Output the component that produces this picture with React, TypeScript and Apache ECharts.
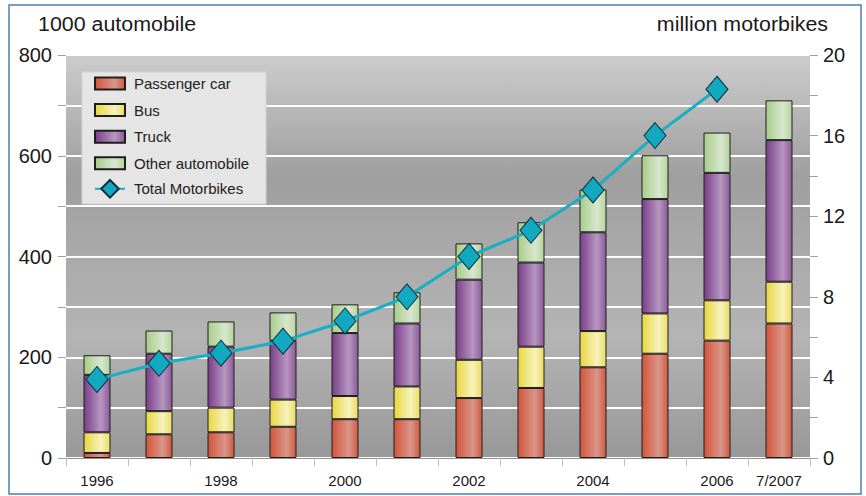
import React, { useEffect, useRef } from "react";
import * as echarts from "echarts";

const categories = ["1996", "1997", "1998", "1999", "2000", "2001", "2002", "2003", "2004", "2005", "2006", "7/2007"];
const shownLabels = ["1996", "1998", "2000", "2002", "2004", "2006", "7/2007"];
const passengerCar = [10, 47, 51, 62, 77, 77, 119, 139, 180, 207, 233, 267];
const bus = [41, 46, 49, 54, 46, 65, 76, 82, 72, 80, 80, 83];
const truck = [114, 114, 121, 117, 125, 125, 159, 167, 196, 227, 253, 281];
const otherAutomobile = [39, 46, 50, 56, 57, 62, 72, 80, 85, 87, 80, 79];
const totalMotorbikes = [3.9, 4.7, 5.2, 5.8, 6.8, 8.0, 10.0, 11.3, 13.3, 16.0, 18.3, null];
const leftLabels = [0, 200, 400, 600, 800];
const rightLabels = [0, 4, 8, 12, 16, 20];

const hGrad = (a: string, b: string, c: string) =>
  new echarts.graphic.LinearGradient(0, 0, 1, 0, [
    { offset: 0, color: a },
    { offset: 0.65, color: b },
    { offset: 1, color: c },
  ]);

export default function App() {
  const ref = useRef<HTMLDivElement>(null);
  useEffect(() => {
    if (!ref.current) return;
    const chart = echarts.init(ref.current, null, { renderer: "svg" });
    const font = "'Liberation Sans', Arial, Helvetica, sans-serif";
    const barBase = (name: string, data: number[], color: any) => ({
      name,
      type: "bar",
      stack: "auto",
      data,
      barWidth: 27,
      itemStyle: { color, borderColor: "#1e1e1e", borderWidth: 1 },
    });
    chart.setOption({
      animation: false,
      backgroundColor: "#ffffff",
      textStyle: { fontFamily: font },
      grid: {
        left: 66,
        right: 56,
        top: 55,
        bottom: 38,
        show: true,
        borderWidth: 0,
        backgroundColor: new echarts.graphic.LinearGradient(0, 0, 0, 1, [
          { offset: 0, color: "#cbcccb" },
          { offset: 0.12, color: "#b9bab9" },
          { offset: 0.3, color: "#9e9f9e" },
          { offset: 0.5, color: "#a9aaa9" },
          { offset: 0.7, color: "#b3b4b3" },
          { offset: 1, color: "#979897" },
        ]),
      },
      graphic: [
        {
          type: "rect",
          shape: { x: 9, y: 5, width: 852, height: 489 },
          style: { fill: "none", stroke: "#4f7fae", lineWidth: 1.5 },
          silent: true,
        },
        {
          type: "rect",
          z: 3,
          shape: { x: 82, y: 72, width: 184, height: 132 },
          style: { fill: "#e4e5e4", stroke: "#d2d3d2", lineWidth: 1 },
          silent: true,
        },
        {
          type: "text",
          x: 38,
          y: 24,
          scaleX: 1.07,
          style: {
            text: "1000 automobile",
            font: `20px ${font}`,
            fill: "#1a1a1a",
            textVerticalAlign: "middle",
          },
        },
        {
          type: "text",
          x: 828,
          y: 24,
          scaleX: 1.07,
          style: {
            text: "million motorbikes",
            font: `20px ${font}`,
            fill: "#1a1a1a",
            textAlign: "right",
            textVerticalAlign: "middle",
          },
        },
      ],
      legend: [
        {
          left: 94,
          top: 76,
          orient: "vertical",
          padding: 0,
          icon: "rect",
          itemWidth: 30,
          itemHeight: 12,
          itemGap: 11.6,
          textStyle: { fontSize: 15, color: "#222", fontFamily: font, padding: [0, 0, 0, 4] },
          data: ["Passenger car", "Bus", "Truck", "Other automobile"],
        },
        {
          left: 94,
          top: 179,
          orient: "vertical",
          padding: 0,
          itemWidth: 30,
          itemHeight: 22,
          textStyle: { fontSize: 15, color: "#222", fontFamily: font, padding: [0, 0, 0, 4] },
          data: ["Total Motorbikes"],
        },
      ],
      xAxis: {
        type: "category",
        data: categories,
        axisLine: { lineStyle: { color: "#8e8f8e", width: 1 } },
        axisTick: { show: true, alignWithLabel: false, length: 8, lineStyle: { color: "#bdbdbd" } },
        axisLabel: {
          interval: 0,
          margin: 15,
          fontSize: 15,
          color: "#1a1a1a",
          formatter: (v: string) => (shownLabels.includes(v) ? v : ""),
        },
      },
      yAxis: [
        {
          type: "value",
          min: 0,
          max: 800,
          interval: 100,
          axisLine: { show: false },
          axisTick: { show: true, length: 8, lineStyle: { color: "#a0a0a0" } },
          axisLabel: {
            margin: 14,
            fontSize: 20,
            color: "#1a1a1a",
            formatter: (v: number) => (leftLabels.includes(v) ? String(v) : ""),
          },
          splitLine: { show: true, lineStyle: { color: "#ffffff", width: 2 } },
        },
        {
          type: "value",
          min: 0,
          max: 20,
          interval: 2,
          position: "right",
          axisLine: { show: false },
          axisTick: { show: true, length: 8, lineStyle: { color: "#a0a0a0" } },
          axisLabel: {
            margin: 13,
            fontSize: 20,
            color: "#1a1a1a",
            formatter: (v: number) => (rightLabels.includes(v) ? String(v) : ""),
          },
          splitLine: { show: false },
        },
      ],
      series: [
        barBase("Passenger car", passengerCar, hGrad("#d4553a", "#d9968a", "#cf5a40")),
        barBase("Bus", bus, hGrad("#e8d640", "#f7f2bc", "#e9dc62")),
        barBase("Truck", truck, hGrad("#7a3e88", "#b797c2", "#8a5a98")),
        barBase("Other automobile", otherAutomobile, hGrad("#a6cd88", "#d8e6cf", "#b5d49d")),
        {
          name: "Total Motorbikes",
          type: "line",
          yAxisIndex: 1,
          data: totalMotorbikes,
          symbol: "diamond",
          symbolSize: [22, 26],
          lineStyle: { color: "#17afc4", width: 3 },
          itemStyle: { color: "#12a9c0", borderColor: "#0b2f3c", borderWidth: 1 },
          z: 5,
        },
      ],
    });
    return () => chart.dispose();
  }, []);
  return (
    <div
      ref={ref}
      style={{ position: "fixed", left: 0, top: 0, width: 866, height: 496 }}
    />
  );
}
